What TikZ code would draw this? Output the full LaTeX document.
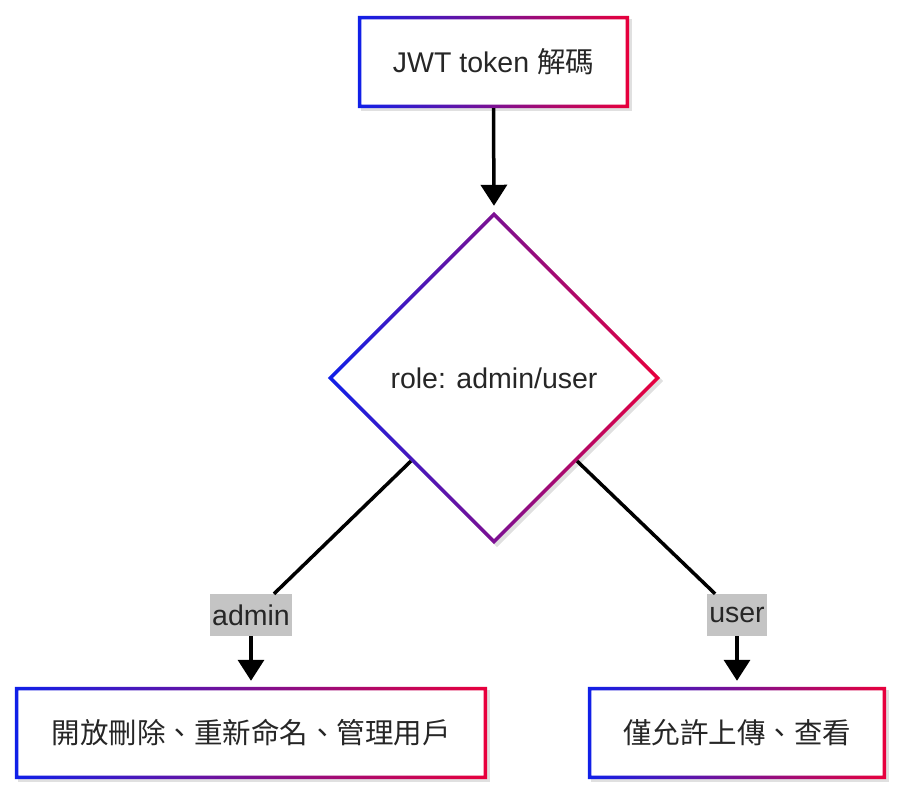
\documentclass[tikz,border=0pt]{standalone}
\usepackage{fontspec}
\setmainfont{Liberation Sans}
\newfontfamily\cjk{Noto Sans CJK TC}
\usetikzlibrary{shapes.geometric,arrows.meta}
\definecolor{gblue}{RGB}{16,32,232}
\definecolor{gred}{RGB}{232,0,60}
\definecolor{txt}{RGB}{38,38,38}
\definecolor{lblgray}{RGB}{196,196,196}
\tikzset{
  boxnode/.style={rectangle, draw=none, inner sep=0pt, text=txt, font=\fontsize{28.5}{33}\selectfont},
  dnode/.style={diamond, draw=none, inner sep=0pt, aspect=1, text=txt, font=\fontsize{28.5}{33}\selectfont},
  grad/.style={left color=gblue, right color=gred, even odd rule},
  shadowfill/.style={fill=black, opacity=0.12},
  lbl/.style={rectangle, fill=lblgray, text=txt, inner xsep=2pt, inner ysep=0pt, minimum height=42pt, font=\fontsize{28.5}{33}\selectfont},
  conn/.style={line width=3.5pt, draw=black},
  arr/.style={conn, -{Triangle[width=26pt,length=21pt]}, shorten >=6pt},
}
\begin{document}
\begin{tikzpicture}[x=1pt,y=-1pt]
\path[use as bounding box, fill=white] (0,0) rectangle (904,799);

% nodes
\node[boxnode, minimum width=271pt, minimum height=92pt] (jwt) at (493.5,62) {JWT token {\cjk 解碼}};
\node[dnode, minimum width=332pt, minimum height=332pt] (role) at (494,378) {role: admin/user};
\node[boxnode, minimum width=472pt, minimum height=92pt] (adm) at (251,733) {\cjk 開放刪除、重新命名、管理用戶};
\node[boxnode, minimum width=298pt, minimum height=92pt] (usr) at (737,733) {\cjk 僅允許上傳、查看};
\node[lbl] (admlbl) at (251,615) {admin};
\node[lbl] (usrlbl) at (737,615) {user};

% shadows
\foreach \n in {jwt,adm,usr}{
  \fill[shadowfill] ([shift={(3,3)}]\n.north west) rectangle ([shift={(3,3)}]\n.south east);
  \fill[white] (\n.north west) rectangle (\n.south east);
}
\fill[shadowfill] ([shift={(3,3)}]role.north) -- ([shift={(3,3)}]role.east) -- ([shift={(3,3)}]role.south) -- ([shift={(3,3)}]role.west) -- cycle;
\fill[white] (role.north) -- (role.east) -- (role.south) -- (role.west) -- cycle;

% gradient borders
\foreach \n in {jwt,adm,usr}{
  \shade[grad] (\n.north west) rectangle (\n.south east)
    ([shift={(3.5,3.5)}]\n.north west) rectangle ([shift={(-3.5,-3.5)}]\n.south east);
}
\shade[grad] (role.north) -- (role.east) -- (role.south) -- (role.west) -- cycle
  ([shift={(0,5)}]role.north) -- ([shift={(-5,0)}]role.east) -- ([shift={(0,-5)}]role.south) -- ([shift={(5,0)}]role.west) -- cycle;

% redraw texts on top
\node[boxnode, minimum width=271pt, minimum height=92pt] at (jwt) {JWT token {\cjk 解碼}};
\node[dnode, minimum width=332pt, minimum height=332pt] at (role) {role: admin/user};
\node[boxnode, minimum width=472pt, minimum height=92pt] at (adm) {\cjk 開放刪除、重新命名、管理用戶};
\node[boxnode, minimum width=298pt, minimum height=92pt] at (usr) {\cjk 僅允許上傳、查看};

% connectors
\draw[arr] (jwt.south) -- (role.north);
\draw[conn] (role.south west) -- ([xshift=-18pt]admlbl.north east);
\draw[arr] (admlbl.south) -- (adm.north);
\draw[conn] (role.south east) -- ([xshift=8pt]usrlbl.north west);
\draw[arr] (usrlbl.south) -- (usr.north);
\end{tikzpicture}
\end{document}
